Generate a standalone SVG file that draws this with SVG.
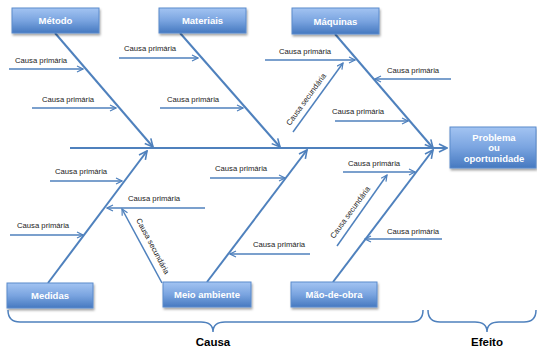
<svg xmlns="http://www.w3.org/2000/svg" width="537" height="348" viewBox="0 0 537 348">
<defs>
<linearGradient id="bg" x1="0" y1="0" x2="0" y2="1">
<stop offset="0" stop-color="#a3c4f2"/>
<stop offset="0.5" stop-color="#7aa4e0"/>
<stop offset="1" stop-color="#4679c0"/>
</linearGradient>
<filter id="sh" x="-10%" y="-20%" width="130%" height="160%">
<feDropShadow dx="1" dy="2" stdDeviation="1.2" flood-color="#000" flood-opacity="0.35"/>
</filter>
<marker id="ah" viewBox="0 0 10 10" refX="9" refY="5" markerWidth="5" markerHeight="5" orient="auto" markerUnits="strokeWidth">
<polyline points="1,1 9,5 1,9" fill="none" stroke="#4f81bd" stroke-width="1.6" stroke-linejoin="miter"/>
</marker>
</defs>
<style>
.box{fill:url(#bg);stroke:#5b8bcc;stroke-width:1;filter:url(#sh)}
.bt{font-family:"Liberation Sans",Arial,sans-serif;font-weight:bold;font-size:9.5px;fill:#fff;text-anchor:middle}
.bone{stroke:#4f81bd;stroke-width:2;fill:none;marker-end:url(#ah)}
.pa{stroke:#4f81bd;stroke-width:1.5;fill:none;marker-end:url(#ah)}
.lbl{font-family:"Liberation Sans",Arial,sans-serif;font-size:7.7px;fill:#222}
.brace{stroke:#4f81bd;stroke-width:1.5;fill:none}
.bl{font-family:"Liberation Sans",Arial,sans-serif;font-weight:bold;font-size:11.5px;fill:#000;text-anchor:middle}
</style>

<g id="connectors">
<line class="bone" x1="70" y1="148" x2="447" y2="148"/>
<line class="bone" x1="55" y1="33" x2="153" y2="147"/>
<line class="bone" x1="180" y1="33" x2="280" y2="147"/>
<line class="bone" x1="335" y1="34" x2="433" y2="148"/>
<line class="bone" x1="48" y1="283" x2="147" y2="151"/>
<line class="bone" x1="207" y1="282" x2="307" y2="150"/>
<line class="bone" x1="333" y1="282" x2="433" y2="150"/>

<line class="pa" x1="9" y1="69" x2="83" y2="69"/>
<line class="pa" x1="32" y1="108" x2="116" y2="108"/>
<line class="pa" x1="119" y1="58" x2="198" y2="58"/>
<line class="pa" x1="160" y1="108" x2="243" y2="108"/>
<line class="pa" x1="265" y1="60" x2="355" y2="60"/>
<line class="pa" x1="451" y1="79" x2="375" y2="79"/>
<line class="pa" x1="335" y1="121" x2="408" y2="121"/>
<line class="pa" x1="50" y1="181" x2="122" y2="181"/>
<line class="pa" x1="205" y1="208" x2="107" y2="208"/>
<line class="pa" x1="10" y1="235" x2="83" y2="235"/>
<line class="pa" x1="210" y1="178" x2="285" y2="178"/>
<line class="pa" x1="310" y1="254" x2="230" y2="254"/>
<line class="pa" x1="343" y1="172" x2="415" y2="172"/>
<line class="pa" x1="442" y1="239" x2="365" y2="239"/>

<line class="pa" x1="293" y1="132" x2="343" y2="63"/>
<line class="pa" x1="162" y1="283" x2="122" y2="209"/>
<line class="pa" x1="337" y1="246" x2="387" y2="175"/>
</g>

<g id="labels">
<text class="lbl" x="15" y="63">Causa primária</text>
<text class="lbl" x="42" y="102">Causa primária</text>
<text class="lbl" x="124" y="51">Causa primária</text>
<text class="lbl" x="167" y="102">Causa primária</text>
<text class="lbl" x="279" y="54">Causa primária</text>
<text class="lbl" x="387" y="73">Causa primária</text>
<text class="lbl" x="332" y="114">Causa primária</text>
<text class="lbl" x="55" y="174">Causa primária</text>
<text class="lbl" x="128" y="201">Causa primária</text>
<text class="lbl" x="17" y="228">Causa primária</text>
<text class="lbl" x="215" y="171">Causa primária</text>
<text class="lbl" x="253" y="247">Causa primária</text>
<text class="lbl" x="348" y="166">Causa primária</text>
<text class="lbl" x="387" y="234">Causa primária</text>
<text class="lbl" transform="translate(290 126) rotate(-54)">Causa secundária</text>
<text class="lbl" transform="translate(136 220) rotate(62)">Causa secundária</text>
<text class="lbl" transform="translate(334 239) rotate(-54)">Causa secundária</text>
</g>

<g id="metodo"><rect class="box" x="12" y="8" width="87" height="25"/><text class="bt" x="55.5" y="24">Método</text></g>
<g id="materiais"><rect class="box" x="159" y="8" width="87" height="25"/><text class="bt" x="202.5" y="24">Materiais</text></g>
<g id="maquinas"><rect class="box" x="292" y="8" width="87" height="26"/><text class="bt" x="335.5" y="24.5">Máquinas</text></g>
<g id="problema"><rect class="box" x="450" y="127" width="86" height="41"/><text class="bt" x="494" y="140.5">Problema</text><text class="bt" x="494" y="151">ou</text><text class="bt" x="494" y="162">oportunidade</text></g>
<g id="medidas"><rect class="box" x="7" y="283" width="86" height="25"/><text class="bt" x="50" y="299">Medidas</text></g>
<g id="meio"><rect class="box" x="163" y="282" width="88" height="25"/><text class="bt" x="207" y="298">Meio ambiente</text></g>
<g id="maodeobra"><rect class="box" x="291" y="282" width="86" height="25"/><text class="bt" x="334" y="298">Mão-de-obra</text></g>

<g id="braces">
<path class="brace" d="M8 310 Q8 322 20 322 L201 322 Q213 322 213 332 Q213 322 225 322 L411 322 Q423 322 423 310"/>
<path class="brace" d="M428 310 Q428 322 440 322 L475 322 Q487 322 487 332 Q487 322 499 322 L524 322 Q536 322 536 310"/>
<text class="bl" x="213" y="346">Causa</text>
<text class="bl" x="487" y="346">Efeito</text>
</g>
</svg>
